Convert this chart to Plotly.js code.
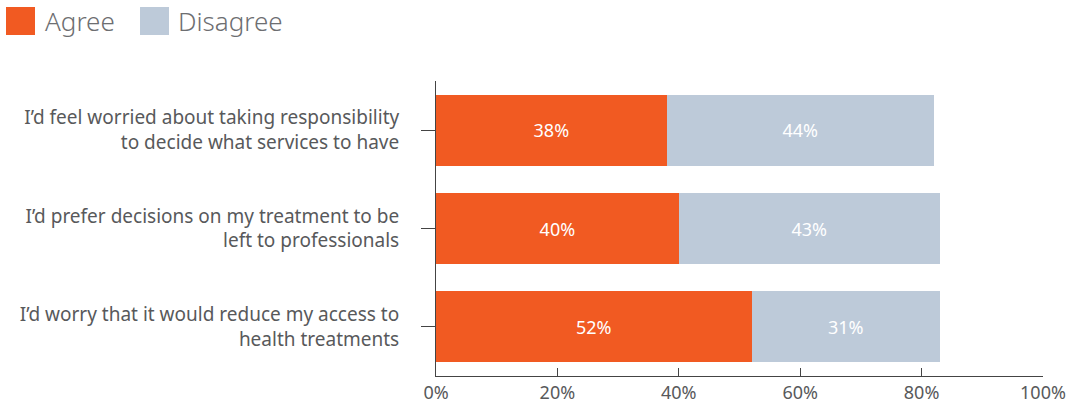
<!DOCTYPE html>
<html>
<head>
<meta charset="utf-8">
<script src="https://cdn.plot.ly/plotly-3.0.1.min.js"></script>
<style>
html,body{margin:0;padding:0;background:#fff;}
#chart{width:1073px;height:405px;}
</style>
</head>
<body>
<div id="chart"></div>
<script>
const categories = [
  "I’d feel worried about taking responsibility<br>to decide what services to have",
  "I’d prefer decisions on my treatment to be<br>left to professionals",
  "I’d worry that it would reduce my access to<br>health treatments"
];
const agreeValues = [38, 40, 52];
const disagreeValues = [44, 43, 31];
const seriesNames = ["Agree", "Disagree"];
const tickValues = [0, 20, 40, 60, 80, 100];
const tickLabels = ["0%", "20%", "40%", "60%", "80%", "100%"];

const ORANGE = "#F15A22";
const GREY = "#BDCAD9";
const TEXT = "#58595B";
const FONT = "Noto Sans, Open Sans, sans-serif";

const common = {
  type: "bar",
  orientation: "h",
  y: categories,
  textposition: "inside",
  insidetextanchor: "middle",
  textfont: {family: FONT, size: 18, color: "#ffffff"},
  hoverinfo: "none",
  showlegend: false
};

const traces = [
  Object.assign({}, common, {
    name: seriesNames[0],
    x: agreeValues,
    text: agreeValues.map(v => v + "%"),
    marker: {color: ORANGE}
  }),
  Object.assign({}, common, {
    name: seriesNames[1],
    x: disagreeValues,
    text: disagreeValues.map(v => v + "%"),
    marker: {color: GREY}
  })
];

const layout = {
  width: 1073,
  height: 405,
  margin: {l: 436, r: 30, t: 81, b: 29, pad: 0},
  paper_bgcolor: "#ffffff",
  plot_bgcolor: "#ffffff",
  barmode: "stack",
  bargap: 0.28,
  font: {family: FONT, color: TEXT},
  xaxis: {
    range: [0, 100],
    tickvals: tickValues,
    ticktext: tickLabels,
    ticks: "inside",
    ticklen: 8,
    tickcolor: "#444",
    showline: true,
    linecolor: "#444",
    linewidth: 1,
    showgrid: false,
    zeroline: false,
    tickfont: {family: FONT, size: 18, color: TEXT},
    fixedrange: true
  },
  yaxis: {
    autorange: "reversed",
    ticks: "outside",
    ticklen: 14,
    tickcolor: "#444",
    showline: true,
    linecolor: "#444",
    linewidth: 1,
    showgrid: false,
    zeroline: false,
    tickfont: {family: FONT, size: 19, color: TEXT},
    ticklabelstandoff: 18,
    fixedrange: true
  },
  shapes: [
    {type: "rect", xref: "paper", yref: "paper", xsizemode: "pixel", ysizemode: "pixel",
     xanchor: -0.7084, yanchor: 1.2508, x0: 0, x1: 29, y0: 0, y1: -28,
     fillcolor: ORANGE, line: {width: 0}},
    {type: "rect", xref: "paper", yref: "paper", xsizemode: "pixel", ysizemode: "pixel",
     xanchor: -0.4876, yanchor: 1.2508, x0: 0, x1: 29, y0: 0, y1: -28,
     fillcolor: GREY, line: {width: 0}}
  ],
  annotations: [
    {xref: "paper", yref: "paper", x: -0.6474, y: 1.2034, xanchor: "left", yanchor: "middle",
     text: seriesNames[0], showarrow: false, font: {family: FONT, size: 26, color: "#6D6E71", weight: 300}},
    {xref: "paper", yref: "paper", x: -0.4283, y: 1.2034, xanchor: "left", yanchor: "middle",
     text: seriesNames[1], showarrow: false, font: {family: FONT, size: 26, color: "#6D6E71", weight: 300}}
  ]
};

Plotly.newPlot("chart", traces, layout, {displayModeBar: false, staticPlot: true});
</script>
</body>
</html>
